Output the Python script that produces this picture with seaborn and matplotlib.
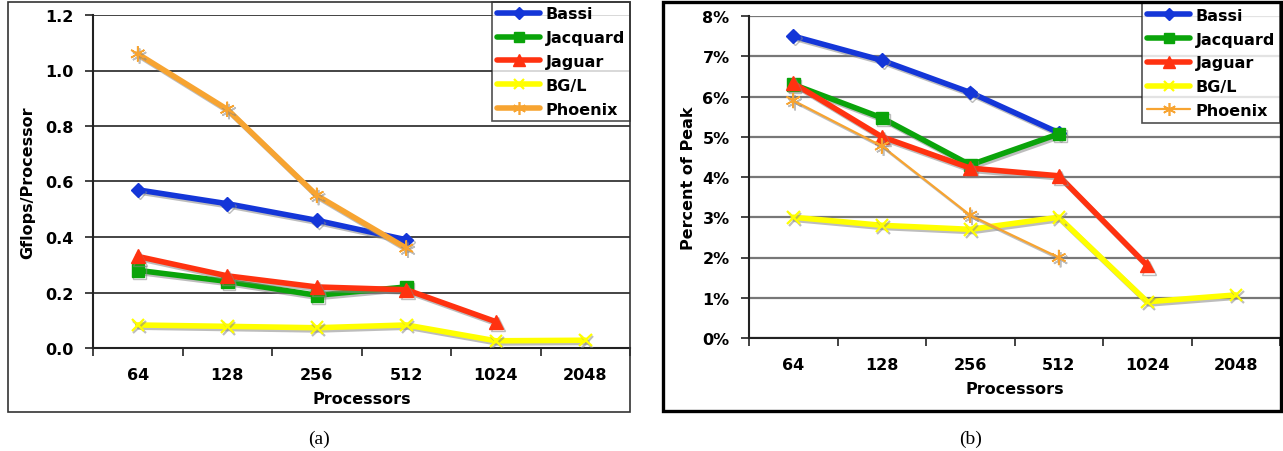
import numpy as np
import matplotlib
matplotlib.use("Agg")
import matplotlib.pyplot as plt
import matplotlib.patheffects as pe
from matplotlib.lines import Line2D
from matplotlib.patches import Rectangle
import seaborn as sns

# Processor counts (categorical x axis)
processors = ["64", "128", "256", "512", "1024", "2048"]
systems = ["Bassi", "Jacquard", "Jaguar", "BG/L", "Phoenix"]

# (a) Gflops per processor
gflops_bassi = [0.57, 0.52, 0.46, 0.39]
gflops_jacquard = [0.28, 0.24, 0.19, 0.22]
gflops_jaguar = [0.33, 0.26, 0.22, 0.21, 0.095]
gflops_bgl = [0.083, 0.078, 0.073, 0.083, 0.026, 0.028]
gflops_phoenix = [1.06, 0.86, 0.55, 0.36]

# (b) Percent of peak
peak_bassi = [7.5, 6.9, 6.1, 5.1]
peak_jacquard = [6.3, 5.47, 4.3, 5.07]
peak_jaguar = [6.33, 5.0, 4.22, 4.03, 1.8]
peak_bgl = [3.0, 2.8, 2.7, 3.0, 0.9, 1.07]
peak_phoenix = [5.9, 4.77, 3.05, 2.0]

gflops = [gflops_bassi, gflops_jacquard, gflops_jaguar, gflops_bgl, gflops_phoenix]
peak = [peak_bassi, peak_jacquard, peak_jaguar, peak_bgl, peak_phoenix]

colors = ["#1436d8", "#0aa40a", "#ff3210", "#ffff00", "#f7a431"]
markers = ["D", "s", "^", "x", (6, 2, 0)]
msizes = [7, 9, 10, 9, 11]
medgew = [1, 1, 1, 1.6, 1.2]

sns.set_theme(style="white")
plt.rcParams["font.family"] = ["DejaVu Sans"]
plt.rcParams["font.weight"] = "bold"
for key in ["text.color", "axes.labelcolor", "xtick.color", "ytick.color"]:
    plt.rcParams[key] = "black"

W, H = 1283, 452
fig = plt.figure(figsize=(W / 100, H / 100), dpi=100)


def px_axes(x0, y0, x1, y1):
    return fig.add_axes([x0 / W, 1 - y1 / H, (x1 - x0) / W, (y1 - y0) / H])


shadow = [pe.SimpleLineShadow(offset=(1.3, -1.6), shadow_color="#888888", alpha=0.55), pe.Normal()]


def draw_panel(ax, series, lws, ymax, yfmt, ylabel, grid_color, grid_lw):
    for vals, name, c, m, ms, mew, lw in zip(series, systems, colors, markers, msizes, medgew, lws):
        xs = np.arange(len(vals))
        sns.lineplot(x=xs, y=vals, ax=ax, color=c, linewidth=lw, marker=m,
                     markersize=ms, markeredgecolor=c, markeredgewidth=mew,
                     path_effects=shadow, legend=False, zorder=3)
    ax.set_xlim(-0.5, len(processors) - 0.5)
    ax.set_ylim(0, ymax)
    ax.set_xticks(np.arange(len(processors)))
    ax.set_xticklabels(processors)
    ax.set_xticks(np.arange(len(processors) + 1) - 0.5, minor=True)
    ax.tick_params(axis="x", which="major", length=0, pad=14, labelsize=11.5)
    ax.tick_params(axis="x", which="minor", length=6, width=1.2, color="#222222",
                   direction="out", bottom=True)
    ax.tick_params(axis="y", which="major", length=6, width=1.2, color="#222222",
                   direction="out", left=True, pad=8, labelsize=11.5)
    ax.yaxis.set_major_formatter(yfmt)
    for lab in ax.get_xticklabels() + ax.get_yticklabels():
        lab.set_fontweight("bold")
    ax.yaxis.grid(True, color=grid_color, linewidth=grid_lw, zorder=0)
    ax.set_axisbelow(True)
    for s in ["top", "right"]:
        ax.spines[s].set_visible(False)
    for s in ["left", "bottom"]:
        ax.spines[s].set_color("#222222")
        ax.spines[s].set_linewidth(1.5)
    ax.set_xlabel("Processors", fontsize=11.5, fontweight="bold")
    ax.set_ylabel(ylabel, fontsize=11.5, fontweight="bold")
    ax.set_facecolor("white")

    handles = []
    for name, c, m, ms, mew, lw in zip(systems, colors, markers, msizes, medgew, lws):
        handles.append(Line2D([], [], color=c, linewidth=lw, marker=m,
                              markersize=ms * 0.85, markeredgecolor=c,
                              markeredgewidth=mew))
    leg = ax.legend(handles, systems, loc="upper right", bbox_to_anchor=(1.0, 1.04),
                    frameon=True, fancybox=False, edgecolor="#222222",
                    handlelength=2.7, handletextpad=0.35, labelspacing=0.55,
                    borderpad=0.3, borderaxespad=0.0,
                    prop={"weight": "bold", "size": 11.5})
    leg.get_frame().set_linewidth(1.2)
    leg.set_zorder(5)


# Panel (a)
ax1 = px_axes(93, 16, 630, 349)
draw_panel(ax1, gflops, [4.0, 4.0, 4.0, 4.0, 4.0], 1.2,
           matplotlib.ticker.FuncFormatter(lambda v, p: f"{v:.1f}"),
           "Gflops/Processor", "#111111", 1.1)
ax1.set_yticks(np.arange(0, 1.21, 0.2))
ax1.yaxis.set_label_coords(-0.108, 0.5)
ax1.xaxis.set_label_coords(0.5, -0.13)

# Panel (b)
ax2 = px_axes(749, 17, 1280, 339)
draw_panel(ax2, peak, [4.0, 4.0, 4.0, 4.0, 1.6], 8,
           matplotlib.ticker.FuncFormatter(lambda v, p: f"{v:.0f}%"),
           "Percent of Peak", "#777777", 1.6)
ax2.set_yticks(np.arange(0, 8.1, 1))
ax2.yaxis.set_label_coords(-0.1, 0.5)
ax2.xaxis.set_label_coords(0.5, -0.135)

# Panel frames
fig.patches.append(Rectangle((8 / W, 1 - 413 / H), (630 - 8) / W, (413 - 3) / H,
                             transform=fig.transFigure, fill=False,
                             edgecolor="#333333", linewidth=1.2, zorder=10))
fig.patches.append(Rectangle((663 / W, 1 - 412 / H), (1281 - 663) / W, (412 - 3) / H,
                             transform=fig.transFigure, fill=False,
                             edgecolor="black", linewidth=2.4, zorder=10))

# Sub-figure captions
fig.text(319 / W, 1 - 439 / H, "(a)", ha="center", va="center",
         fontsize=14, fontweight="normal", family="Liberation Serif")
fig.text(971 / W, 1 - 439 / H, "(b)", ha="center", va="center",
         fontsize=14, fontweight="normal", family="Liberation Serif")

fig.savefig("out.png", dpi=100, facecolor="white")
